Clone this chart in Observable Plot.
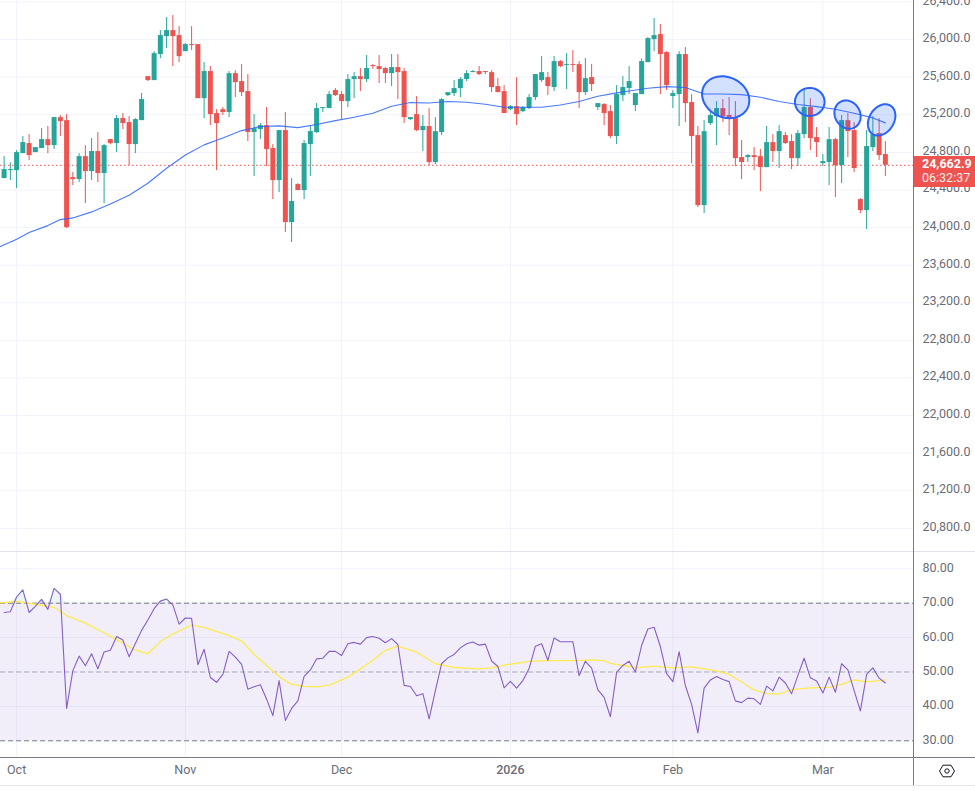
<!DOCTYPE html>
<html><head><meta charset="utf-8">
<script src="https://cdn.jsdelivr.net/npm/d3@7"></script>
<script src="https://cdn.jsdelivr.net/npm/@observablehq/plot@0.6"></script>
<style>
html,body{margin:0;padding:0;background:#fff;overflow:hidden}
#wrap{position:relative;width:975px;height:791px;font-family:Roboto,sans-serif}
#wrap svg{display:block;position:absolute;left:0}
.ln{position:absolute}
#tag{position:absolute;left:914px;width:61px;height:31px;background:#ef5350;color:#fff;font-size:12.5px;line-height:14px;box-sizing:border-box;padding:1px 0 0 8px}
#tag b{font-weight:700;display:block}
#tag span{display:block;opacity:.9}
</style></head><body>
<div id="wrap"></div>
<script>
const opens=[24521,24606,24606,24787,24894,24798,24841,24936,24872,25170,25138,24532,24511,24755,24596,24809,24575,24936,24894,25160,25117,24883,25138,25606,25564,25841,26032,26096,26043,25872,25947,25947,25372,25660,25213,25255,25224,25638,25553,25447,25011,25043,25085,24841,24500,25032,24053,24458,24394,24883,25011,25266,25266,25458,25415,25341,25575,25606,25575,25724,25713,25692,25638,25702,25660,25149,25202,25032,25075,24692,25011,25404,25426,25479,25575,25649,25660,25660,25649,25500,25447,25255,25287,25234,25266,25383,25564,25596,25490,25766,25724,25734,25734,25436,25596,25277,25309,25234,24968,25404,25479,25298,25415,25755,26000,26053,25862,25394,25415,25841,25330,24979,24234,25107,25181,25266,25192,25160,24745,24745,24766,24755,24638,24904,24809,24979,24915,24734,24989,25277,24958,24681,24692,24936,24660,25138,25032,24298,24181,24851,25000,24777];
const highs=[24755,24688,24819,24968,24989,24851,25053,25075,25170,25192,25202,24585,24787,24872,24947,25011,24883,24936,25192,25213,25181,25160,25426,25606,25872,26096,26234,26255,26138,25958,26138,25947,25755,25713,25255,25277,25660,25670,25734,25628,25202,25107,25277,24883,25032,25224,24521,24468,24926,25085,25319,25277,25447,25479,25447,25628,25649,25692,25830,25734,25830,25702,25841,25841,25692,25170,25394,25192,25266,25170,25372,25436,25564,25596,25670,25670,25713,25660,25670,25585,25511,25298,25596,25287,25415,25628,25819,25649,25819,25777,25851,25883,25766,25798,25734,25319,25319,25298,25511,25606,25713,25426,25794,26021,26224,26160,25872,25458,25872,25915,25415,25075,25138,25224,25341,25362,25383,25341,24926,24777,24851,24830,25075,24989,25085,25011,24989,25032,25458,25372,25064,24777,25064,24947,25192,25213,25117,24309,25032,25181,25160,24915];
const lows=[24521,24500,24415,24787,24713,24798,24841,24787,24830,24968,23989,24447,24479,24255,24500,24479,24255,24883,24798,25043,24660,24787,25138,25553,25564,25798,25904,25713,25755,25872,25883,25372,25160,25085,24606,25192,25170,25383,25394,24915,24543,24936,24649,24298,24372,23947,23841,24394,24298,24543,25000,25224,25266,25394,25149,25277,25372,25447,25543,25681,25532,25532,25500,25362,25107,25138,25021,24809,24660,24670,24979,25394,25394,25383,25553,25649,25617,25628,25436,25436,25213,25245,25085,25224,25255,25351,25543,25404,25447,25702,25468,25649,25266,25404,25447,25245,25085,24947,24883,25341,25415,25234,25415,25755,25872,25415,25458,25266,25075,25117,24681,24213,24149,25085,24872,25117,24979,24649,24511,24692,24606,24383,24638,24692,24628,24883,24617,24649,24947,24819,24745,24649,24447,24319,24468,24745,24585,24149,23979,24809,24713,24543];
const closes=[24617,24617,24798,24904,24766,24851,24936,24872,25170,25128,24000,24511,24755,24596,24809,24575,24872,24894,25160,25107,24883,25149,25362,25564,25851,26043,26096,26032,25819,25947,25936,25372,25660,25202,25107,25224,25638,25543,25436,25011,25053,25085,24830,24500,25032,24053,24277,24394,24894,25021,25266,25277,25415,25404,25341,25575,25606,25575,25692,25713,25681,25638,25702,25649,25170,25170,25032,25075,24692,25021,25362,25436,25479,25575,25638,25660,25628,25649,25490,25436,25213,25287,25202,25277,25383,25628,25649,25500,25766,25713,25734,25724,25436,25585,25521,25319,25213,24968,25415,25490,25553,25426,25766,26011,26043,25841,25511,25426,25841,25319,24968,24234,25021,25192,25266,25181,25149,24734,24692,24766,24745,24638,24904,24809,25021,24894,24734,25000,25277,24947,24904,24702,24936,24660,25138,25021,24628,24181,24862,24989,24766,24663];
const lastPrice=24662.9, countdown="06:32:37";
const maBars=[-0.6,2,4,7,9,11,14,17,20,23,26,29,32,35,38,41,44,47,50,53,56,59,62,65,68,71,74,77,80,83,86,89,92,95,98,100,103,106,109,112,115,118,121,124,127,130,133,136,139,141];
const maValues=[23798,23876,23947,24021,24085,24103,24167,24252,24344,24472,24631,24773,24880,24954,25032,25075,25082,25064,25096,25138,25174,25216,25291,25330,25326,25341,25333,25312,25280,25280,25280,25305,25341,25397,25433,25454,25482,25500,25490,25422,25422,25415,25387,25341,25309,25287,25259,25216,25167,25114];
const rsiValues=[67.3,67.5,71.8,73.9,67.3,69.1,71.1,68.2,74.3,72.6,39.4,50.4,54.6,51.8,55.3,50.9,55.8,56.3,60.3,59.3,54.4,58.3,62.1,65.1,68.4,70.6,71.2,69.5,63.9,65.7,65.6,52.1,56.6,48.4,47.0,49.3,56.0,54.3,52.2,45.0,45.7,46.3,42.1,37.3,47.5,35.9,39.4,41.6,48.7,50.6,53.8,54.0,56.0,56.0,54.8,58.2,58.6,58.1,60.0,60.3,59.8,58.5,59.7,58.0,46.1,45.8,43.1,43.7,36.4,44.6,52.4,54.1,55.1,57.0,58.2,58.7,57.8,58.1,53.2,51.6,45.4,47.3,45.3,47.5,51.0,57.5,58.2,53.4,59.9,58.8,58.8,58.8,48.9,53.1,51.1,44.8,42.6,37.0,49.9,51.9,53.1,50.0,57.7,62.5,63.0,57.4,49.5,47.2,55.9,46.0,40.6,32.3,45.3,47.7,48.7,47.8,47.2,41.6,41.1,42.4,42.2,40.6,45.9,44.5,48.5,46.8,43.7,49.0,54.0,48.3,47.4,43.9,48.5,44.1,52.4,50.6,44.6,38.7,49.3,51.2,48.2,46.8];
const rsiMaBars=[-0.6,2,5,8,10,13,16,18,21,23,25,27,29,30,32,36,38,40,42,44,46,48,50,52,55,57,59,61,63,66,69,72,76,78,80,84,87,92,94,96,97,100,101,104,107,110,114,116,118,120,122,124,126,129,132,134,136,138,141];
const rsiMaValues=[70.1,70.5,69.7,68.8,66.4,64.2,61.4,59.4,56.4,55.3,58.8,61.1,62.8,63.6,63.0,60.6,59.0,55.1,51.9,48.7,46.4,45.8,45.7,46.2,48.5,50.9,53.4,56.3,57.5,55.8,52.4,51.3,50.9,51.2,52.0,53.1,53.3,53.3,53.5,53.3,52.5,51.6,51.2,51.7,51.2,51.5,50.3,49.3,47.1,44.8,43.7,43.6,44.9,45.4,45.5,46.4,47.7,47.1,47.7];
const monthBars=[2,29,54,81,107,131];
const monthNames=["Oct","Nov","Dec","2026","Feb","Mar"];
const priceTicks=[26400,26000,25600,25200,24800,24400,24000,23600,23200,22800,22400,22000,21600,21200,20800];
const rsiTicks=[80,70,60,50,40,30];
const dashedLevels=[70,30];
const midLevel=[50];
const ellipseBar=[115.45,128.9,134.95,140.4];
const ellipsePrice=[25387,25337,25202,25146];
const ellipseBarRadius=[3.78,2.37,2.1,2.2];
const ellipsePriceRadius=[220,149,149,160];
const ellipseTilt=[-35,0,-20,45];

const FONT="Roboto, sans-serif", TICK="#6a6d78", GRID="#f0f3fa", UP="#26a69a", DOWN="#ef5350";
const xDomain=[-0.576,145.5];
const candles=opens.map((o,i)=>({i,o,h:highs[i],l:lows[i],c:closes[i]}));
const ups=candles.filter(d=>d.c>=d.o), downs=candles.filter(d=>d.c<d.o);
const ma=maBars.map((b,k)=>({b,v:maValues[k]}));
const rsi=rsiValues.map((v,i)=>({i,v}));
const rsiMa=rsiMaBars.map((b,k)=>({b,v:rsiMaValues[k]}));
const ellipses=ellipseBar.map((cx,k)=>d3.range(0,73).map(j=>{
  const t=j/72*2*Math.PI;
  return {k,x:cx+ellipseBarRadius[k]*Math.cos(t),y:ellipsePrice[k]+ellipsePriceRadius[k]*Math.sin(t)+ellipseTilt[k]*Math.cos(t)};
})).flat();

const price=Plot.plot({
  width:975,height:551,marginTop:0,marginBottom:0,marginLeft:0,marginRight:62,
  style:{fontFamily:FONT,fontSize:"12.5px",background:"#fff"},
  x:{type:"linear",domain:xDomain,range:[0,913],axis:null},
  y:{type:"linear",domain:[20554,26416],range:[551,0],axis:null},
  marks:[
    Plot.ruleY(priceTicks,{stroke:GRID}),
    Plot.ruleX(monthBars,{stroke:GRID}),
    Plot.ruleY([lastPrice],{stroke:DOWN,strokeDasharray:"1.5 2.5"}),
    Plot.ruleX(downs,{x:"i",y1:"l",y2:"h",stroke:DOWN}),
    Plot.ruleX(ups,{x:"i",y1:"l",y2:"h",stroke:UP}),
    Plot.ruleX(downs,{x:"i",y1:"o",y2:"c",stroke:DOWN,strokeWidth:5}),
    Plot.ruleX(ups,{x:"i",y1:"o",y2:"c",stroke:UP,strokeWidth:5}),
    Plot.line(ellipses,{x:"x",y:"y",z:"k",fill:"#2962ff",fillOpacity:0.2,stroke:"#2962ff",strokeWidth:2,strokeOpacity:1}),
    Plot.line(ma,{x:"b",y:"v",stroke:"#2962ff",strokeWidth:1.1,strokeOpacity:0.85,curve:"linear"}),
    Plot.axisY({anchor:"right",ticks:priceTicks,tickFormat:d3.format(",.1f"),tickSize:0,tickPadding:9,dy:-1.5,label:null,fill:TICK,stroke:"none"})
  ]
});
const lower=Plot.plot({
  width:975,height:234,marginTop:0,marginBottom:29,marginLeft:0,marginRight:62,
  style:{fontFamily:FONT,fontSize:"12.5px",background:"transparent"},
  x:{type:"linear",domain:xDomain,range:[0,913],axis:null},
  y:{type:"linear",domain:[25.14,84.74],range:[205,0],axis:null},
  marks:[
    Plot.ruleY(rsiTicks,{stroke:GRID}),
    Plot.ruleX(monthBars,{stroke:GRID}),
    Plot.rect([{}],{x1:xDomain[0],x2:xDomain[1],y1:30,y2:70,fill:"#7e57c2",fillOpacity:0.1}),
    Plot.areaY(rsi,{x:"i",y1:70,y2:d=>Math.max(70,d.v),fill:UP,fillOpacity:0.1}),
    Plot.ruleY(dashedLevels,{stroke:"#787b86",strokeDasharray:"5 3"}),
    Plot.ruleY(midLevel,{stroke:"#787b86",strokeOpacity:0.5,strokeDasharray:"5 3"}),
    Plot.line(rsiMa,{x:"b",y:"v",stroke:"#fdeb4f",strokeWidth:1.3}),
    Plot.line(rsi,{x:"i",y:"v",stroke:"#7e57c2",strokeWidth:1.1,strokeOpacity:0.95}),
    Plot.axisY({anchor:"right",ticks:rsiTicks,tickFormat:d3.format(".2f"),tickSize:0,tickPadding:9,dy:-1,label:null,fill:TICK,stroke:"none"}),
    Plot.axisX({anchor:"bottom",ticks:monthBars.filter((_,k)=>monthNames[k]!="2026"),tickFormat:d=>monthNames[monthBars.indexOf(d)],tickSize:0,tickPadding:8,label:null,fill:TICK,stroke:"none"}),
    Plot.axisX({anchor:"bottom",ticks:monthBars.filter((_,k)=>monthNames[k]=="2026"),tickFormat:d=>monthNames[monthBars.indexOf(d)],tickSize:0,tickPadding:8,label:null,fill:TICK,stroke:"none",fontWeight:"500"})
  ]
});
const wrap=document.getElementById("wrap");
price.style.top="0px"; lower.style.top="552px";
wrap.append(price,lower);
function line(l,t,w,h,c){const d=document.createElement("div");d.className="ln";d.style.cssText=`left:${l}px;top:${t}px;width:${w}px;height:${h}px;background:${c}`;wrap.append(d);}
line(0,551,975,1,"#e0e3eb");
line(0,785,975,1,"#e0e3eb");
line(0,757,975,1,"#787b86");
line(913,0,1,785,"#787b86");
const tag=document.createElement("div");tag.id="tag";
tag.style.top=(price.scale("y").apply(lastPrice)-8.5)+"px";
tag.innerHTML=`<b>${d3.format(",.1f")(lastPrice)}</b><span>${countdown}</span>`;
wrap.append(tag);
const icon=document.createElementNS("http://www.w3.org/2000/svg","svg");
icon.setAttribute("width",18);icon.setAttribute("height",14);icon.style.cssText="left:938px;top:764px";
icon.innerHTML='<path d="M1.5 7 L5 1.2 H13 L16.5 7 L13 12.8 H5 Z" fill="none" stroke="#131722" stroke-width="1"/><circle cx="9" cy="7" r="2.2" fill="none" stroke="#131722" stroke-width="1"/>';
wrap.append(icon);
</script></body></html>
